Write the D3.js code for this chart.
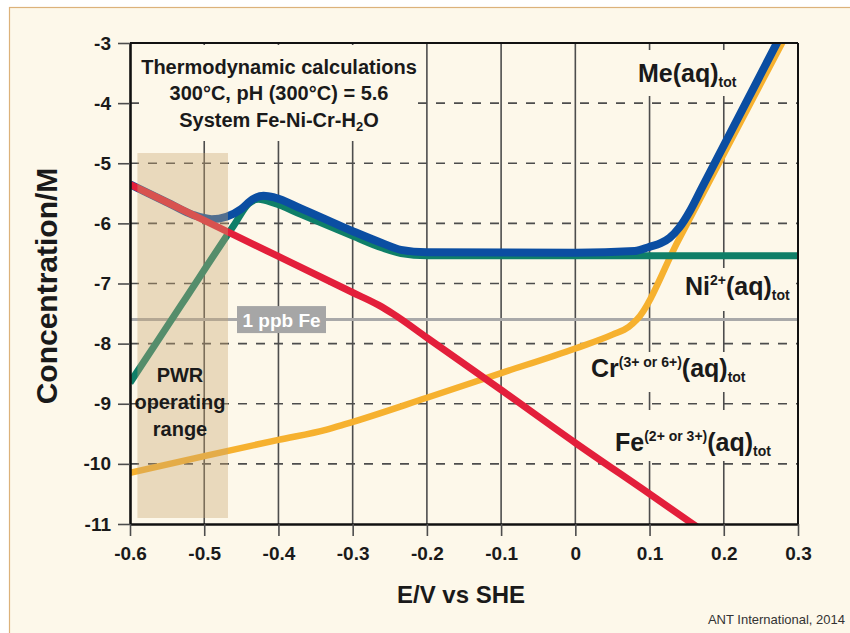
<!DOCTYPE html>
<html><head><meta charset="utf-8">
<script src="https://cdn.jsdelivr.net/npm/d3@7"></script>
<style>body{margin:0;background:#fff}svg{display:block}</style>
</head><body>
<svg id="c" width="850" height="633"></svg>
<script>
// ---------- data ----------
const xTicks = [-0.6,-0.5,-0.4,-0.3,-0.2,-0.1,0,0.1,0.2,0.3];
const xTickLabels = ["-0.6","-0.5","-0.4","-0.3","-0.2","-0.1","0","0.1","0.2","0.3"];
const yTicks = [-3,-4,-5,-6,-7,-8,-9,-10,-11];
const yTickLabels = ["-3","-4","-5","-6","-7","-8","-9","-10","-11"];

const feData = [[-0.6,-5.35],[-0.5,-5.95],[-0.4,-6.55],[-0.3,-7.15],[-0.265,-7.36],[-0.245,-7.51],[-0.2,-7.9],[-0.1,-8.77],[0,-9.65],[0.1,-10.5],[0.17,-11.1]];
const niData = [[-0.6,-8.65],[-0.53,-7.34],[-0.46,-6.03],[-0.44,-5.67],[-0.427,-5.6],[-0.405,-5.67],[-0.37,-5.85],[-0.3,-6.21],[-0.26,-6.41],[-0.235,-6.5],[-0.2,-6.54],[0,-6.54],[0.31,-6.54]];
const crData = [[-0.6,-10.15],[-0.5,-9.87],[-0.4,-9.6],[-0.335,-9.43],[-0.31,-9.34],[-0.2,-8.9],[-0.1,-8.49],[0,-8.08],[0.05,-7.85],[0.072,-7.72],[0.083,-7.6],[0.138,-6.3],[0.285,-2.85]];
const meData = [[-0.6,-5.35],[-0.55,-5.65],[-0.515,-5.86],[-0.49,-5.93],[-0.47,-5.89],[-0.45,-5.76],[-0.435,-5.6],[-0.42,-5.54],[-0.405,-5.57],[-0.37,-5.75],[-0.3,-6.13],[-0.26,-6.33],[-0.235,-6.44],[-0.2,-6.48],[0,-6.49],[0.08,-6.46],[0.1,-6.39],[0.115,-6.33],[0.127,-6.24],[0.14,-6.07],[0.155,-5.78],[0.17,-5.42],[0.28,-2.8]];
const ppbLevel = -7.6;
const pwrRange = [-0.59, -0.468];
const pwrConc = [-4.83, -10.9];

const titleLines = ["Thermodynamic calculations","300°C, pH (300°C) = 5.6"];
const xTitle = "E/V vs SHE";
const yTitle = "Concentration/M";
const credit = "ANT International, 2014";

// ---------- setup ----------
const FONT = "'Liberation Sans', Arial, sans-serif";
const svg = d3.select("#c");
const L=130, R=798, T=43, B=524;
const x = d3.scaleLinear().domain([-0.6,0.3]).range([L,R]);
const y = d3.scaleLinear().domain([-11,-3]).range([B,T]);
const cream = "#fdf8ea";

svg.append("rect").attr("x",0).attr("y",0).attr("width",850).attr("height",633).attr("fill","#fff");
svg.append("rect").attr("x",9.5).attr("y",7.5).attr("width",900).attr("height",700)
  .attr("fill",cream).attr("stroke","#dcb27a").attr("stroke-width",1.2);

svg.append("defs").append("clipPath").attr("id","plot")
  .append("rect").attr("x",L).attr("y",T).attr("width",R-L).attr("height",B-T);

// grid
const grid = svg.append("g");
grid.selectAll("line.v").data(xTicks.slice(1,-1)).join("line")
  .attr("x1",d=>x(d)).attr("x2",d=>x(d)).attr("y1",T).attr("y2",B)
  .attr("stroke","#4d4d4d").attr("stroke-width",1.6);
grid.selectAll("line.h").data(yTicks.slice(1,-1)).join("line")
  .attr("x1",L).attr("x2",R).attr("y1",d=>y(d)).attr("y2",d=>y(d))
  .attr("stroke","#4d4d4d").attr("stroke-width",1.6).attr("stroke-dasharray","9,9");

// label background patches (cover grid)
const bgs = svg.append("g");
function bg(x0,y0,x1,y1){bgs.append("rect").attr("x",x0).attr("y",y0).attr("width",x1-x0).attr("height",y1-y0).attr("fill",cream);}
bg(142,45,418,141);
bg(636,50,744,96);
bg(668,268,796,311);
bg(585,352,762,392);
bg(605,410,786,461);

// 1 ppb line
svg.append("line").attr("x1",L).attr("x2",R).attr("y1",y(ppbLevel)).attr("y2",y(ppbLevel))
  .attr("stroke","#a9a9a9").attr("stroke-width",3);
svg.append("rect").attr("x",237).attr("y",y(ppbLevel)-13.5).attr("width",89).attr("height",27).attr("fill","#a6a6a6");
svg.append("text").attr("x",281.5).attr("y",y(ppbLevel)+7).attr("text-anchor","middle")
  .attr("font-family",FONT).attr("font-weight","bold").attr("font-size",19).attr("fill","#fff").text("1 ppb Fe");

// curves
const line = d3.line().x(d=>x(d[0])).y(d=>y(d[1])).curve(d3.curveMonotoneX);
const cg = svg.append("g").attr("clip-path","url(#plot)");
const series = [
  {d:crData, c:"#f6b12f", w:6.5},
  {d:niData, c:"#0f7f68", w:7},
  {d:meData, c:"#0b4ea2", w:8},
  {d:feData, c:"#e31f3b", w:7}
];
series.forEach(s=>cg.append("path").attr("d",line(s.d)).attr("fill","none")
  .attr("stroke",s.c).attr("stroke-width",s.w).attr("stroke-linejoin","round"));

// PWR box
svg.append("rect").attr("x",x(pwrRange[0])).attr("y",y(pwrConc[0]))
  .attr("width",x(pwrRange[1])-x(pwrRange[0])).attr("height",y(pwrConc[1])-y(pwrConc[0]))
  .attr("fill","rgb(200,166,112)").attr("opacity",0.38);
const pw = svg.append("text").attr("text-anchor","middle").attr("font-family",FONT)
  .attr("font-weight","bold").attr("font-size",20).attr("fill","#1a1a1a");
[["PWR",382],["operating",409],["range",436]].forEach(([t,yy])=>pw.append("tspan").attr("x",180).attr("y",yy).text(t));

// frame
svg.append("line").attr("x1",L).attr("x2",R).attr("y1",T).attr("y2",T).attr("stroke","#111").attr("stroke-width",2);
svg.append("line").attr("x1",R).attr("x2",R).attr("y1",T).attr("y2",B).attr("stroke","#111").attr("stroke-width",2);

// axes
const ax = svg.append("g").attr("transform",`translate(${L},0)`)
  .call(d3.axisLeft(y).tickValues(yTicks).tickSize(12).tickSizeOuter(0).tickPadding(7).tickFormat((d,i)=>yTickLabels[i]));
const bx = svg.append("g").attr("transform",`translate(0,${B})`)
  .call(d3.axisBottom(x).tickValues(xTicks).tickSize(12).tickSizeOuter(0).tickPadding(11).tickFormat((d,i)=>xTickLabels[i]));
[ax,bx].forEach(a=>{
  a.select(".domain").attr("stroke","#111").attr("stroke-width",2.6);
  a.selectAll(".tick line").attr("stroke","#4d4d4d").attr("stroke-width",1.6);
  a.selectAll(".tick text").attr("font-family",FONT).attr("font-weight","bold").attr("font-size",19).attr("fill","#1a1a1a");
});

// titles
svg.append("text").attr("transform","translate(57,286) rotate(-90)").attr("text-anchor","middle")
  .attr("font-family",FONT).attr("font-weight","bold").attr("font-size",30).attr("fill","#1a1a1a").text(yTitle);
svg.append("text").attr("x",461).attr("y",603).attr("text-anchor","middle")
  .attr("font-family",FONT).attr("font-weight","bold").attr("font-size",24).attr("fill","#1a1a1a").text(xTitle);
svg.append("text").attr("x",845).attr("y",624).attr("text-anchor","end")
  .attr("font-family",FONT).attr("font-size",13).attr("fill","#333").text(credit);

// annotation
const an = svg.append("g").attr("font-family",FONT).attr("font-weight","bold").attr("font-size",20).attr("fill","#1a1a1a").attr("text-anchor","middle");
an.append("text").attr("x",279).attr("y",74).text(titleLines[0]);
an.append("text").attr("x",279).attr("y",100).text(titleLines[1]);
const t3 = an.append("text").attr("x",279).attr("y",127);
t3.append("tspan").text("System Fe-Ni-Cr-H");
t3.append("tspan").attr("font-size",13).attr("dy",4).text("2");
t3.append("tspan").attr("dy",-4).text("O");

// series labels
function lab(x0,y0,parts){
  const t = svg.append("text").attr("x",x0).attr("y",y0).attr("font-family",FONT).attr("font-weight","bold").attr("fill","#1a1a1a");
  let cur=0;
  parts.forEach(([txt,kind])=>{
    let dy=0,fs=25;
    if(kind==="sup"){dy=-10-cur;cur=-10;fs=14;}
    else if(kind==="sub"){dy=5-cur;cur=5;fs=14;}
    else {dy=-cur;cur=0;}
    t.append("tspan").attr("dy",dy).attr("font-size",fs).text(txt);
  });
}
lab(638,82,[["Me(aq)","n"],["tot","sub"]]);
lab(685,295,[["Ni","n"],["2+","sup"],["(aq)","n"],["tot","sub"]]);
lab(591,377,[["Cr","n"],["(3+ or 6+)","sup"],["(aq)","n"],["tot","sub"]]);
lab(615,451,[["Fe","n"],["(2+ or 3+)","sup"],["(aq)","n"],["tot","sub"]]);
</script>
</body></html>
